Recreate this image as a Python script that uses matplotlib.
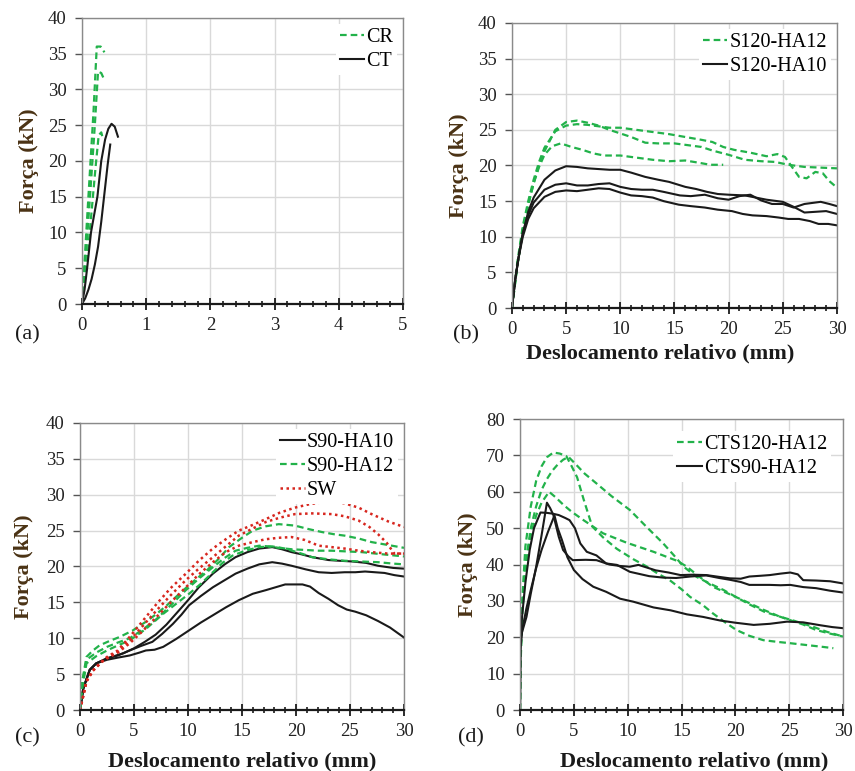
import matplotlib
matplotlib.use('Agg')
import matplotlib.pyplot as plt
from matplotlib.ticker import MultipleLocator

plt.rcParams['font.family'] = ['Liberation Serif', 'DejaVu Serif']

GREEN = '#22b24a'
RED = '#d7261e'
BLACK = '#1a1a1a'
LABEL_COLOR = '#4a3214'

# ---- panel (a): CR / CT ----
a_cr_x = [[0, 0.06, 0.12, 0.18, 0.23, 0.29, 0.35],
          [0, 0.07, 0.14, 0.20, 0.25, 0.30, 0.35],
          [0, 0.08, 0.15, 0.21, 0.26, 0.30, 0.33]]
a_cr_y = [[0, 9, 18, 27, 36, 36, 35.2],
          [0, 8, 17, 25, 32.5, 32.3, 31.3],
          [0, 6, 13, 19, 23.6, 24, 23]]
a_ct_x = [[0, 0.04, 0.08, 0.14, 0.19, 0.24, 0.30, 0.36, 0.41, 0.46, 0.51, 0.56],
          [0, 0.05, 0.10, 0.15, 0.20, 0.25, 0.30, 0.35, 0.40, 0.44]]
a_ct_y = [[0, 2, 5, 10, 12.5, 15, 20, 23, 24.5, 25.2, 24.8, 23.4],
          [0, 0.8, 2, 3.5, 5.5, 8, 11.5, 15.5, 19.5, 22.3]]

# ---- panel (b): S120-HA12 / S120-HA10 ----
b_g_x = [[0, 0.5, 1, 1.5, 2, 2.5, 3, 4, 5, 6, 7, 8, 9, 10, 11, 12.3, 13.5, 15, 16.5, 17.5,
          18.5, 20, 21.5, 23, 24.3, 25.5, 27, 28.5, 30],
         [0, 0.5, 1, 1.5, 2, 2.5, 3, 4, 5, 6, 7, 8, 9, 10, 11.5, 13, 14.5, 16, 17.5, 18.5,
          19.5, 20.5, 22, 23.5, 24.5, 25.2, 25.8, 26.5, 27.2, 28, 28.7, 29.3, 30],
         [0, 0.5, 1, 1.5, 2, 2.5, 3, 3.7, 4.5, 5.5, 6.5, 7.5, 8.5, 10, 11.5, 13, 14.5, 16,
          17.2, 18.3, 19.5]]
b_g_y = [[0, 6, 11, 14.5, 17.5, 20, 22, 25, 26.1, 26.3, 26, 25.6, 25, 24.5, 24, 23.2, 23.1,
          23.1, 22.8, 22.6, 22.1, 21.5, 20.8, 20.6, 20.5, 20.1, 19.8, 19.7, 19.6],
         [0, 6.5, 11.5, 15, 18, 20.5, 22.5, 24.8, 25.6, 25.8, 25.7, 25.5, 25.3, 25.3, 25.0,
          24.7, 24.4, 24.0, 23.6, 23.3, 22.6, 22.2, 21.8, 21.3, 21.6, 21.2, 19.9, 18.4, 18.2,
          19.1, 18.9, 17.8, 16.9],
         [0, 6, 11, 14.5, 17.5, 19.8, 21.5, 22.7, 23.1, 22.6, 22.2, 21.7, 21.4, 21.4, 21.1,
          20.8, 20.6, 20.7, 20.4, 20.1, 20.1]]
b_k_x = [[0, 0.3, 0.6, 1, 1.5, 2, 3, 4, 5, 6, 7, 8, 9, 10, 11, 12.3, 13.5, 14.5, 16, 17, 18,
          19, 20, 21.5, 22.5, 23.5, 25, 26, 27, 28, 29, 30],
         [0, 0.3, 0.6, 1, 1.5, 2, 3, 4, 5, 6, 7, 8, 9, 10, 11, 12, 13, 14, 15.5, 16.5, 17.8,
          19, 20, 21, 22, 23, 24, 25, 26, 27, 28.5, 29.3, 30],
         [0, 0.3, 0.6, 1, 1.5, 2, 3, 4, 5, 6, 7, 8, 9, 10, 11, 12, 13, 14, 15.4, 16.5, 17.8,
          19, 20.3, 21.3, 22.2, 23.5, 24.6, 25.5, 26.5, 27.5, 28.3, 29.2, 30]]
b_k_y = [[0, 4, 7, 10.5, 13.5, 15.5, 18, 19.3, 19.9, 19.8, 19.6, 19.5, 19.4, 19.4, 19, 18.4,
          18, 17.7, 17, 16.7, 16.3, 16, 15.9, 15.8, 15.5, 15.2, 14.9, 14.2, 13.4, 13.5, 13.6,
          13.2],
         [0, 4, 7, 10.5, 13, 14.8, 16.6, 17.3, 17.5, 17.2, 17.2, 17.4, 17.5, 17.0, 16.7, 16.6,
          16.6, 16.3, 15.8, 15.7, 15.9, 15.4, 15.2, 15.7, 15.9, 15.1, 14.6, 14.6, 14.1, 14.6,
          14.9, 14.6, 14.3],
         [0, 4, 7, 10, 12.5, 14, 15.6, 16.3, 16.5, 16.4, 16.6, 16.8, 16.7, 16.2, 15.8, 15.7,
          15.5, 15, 14.5, 14.3, 14.1, 13.8, 13.6, 13.2, 13, 12.9, 12.7, 12.5, 12.5, 12.2, 11.8,
          11.8, 11.6]]

# ---- panel (c): S90-HA10 / S90-HA12 / SW ----
c_k_x = [[0, 0.3, 0.9, 1.5, 2.5, 4, 5, 6, 7, 8, 9, 10, 11, 12.3, 13.4, 14.4, 15.5, 16.6,
          17.8, 18.7, 19.6, 20.5, 21.5, 23, 24, 25.2, 26.5, 27.6, 29, 30],
         [0, 0.3, 0.9, 1.5, 2.5, 3.5, 4.6, 5.6, 6.7, 7.6, 8.6, 9.4, 10.1, 11.2, 12.3, 13.4,
          14.4, 15.5, 16.6, 17.8, 18.7, 19.6, 20.9, 22.1, 23.3, 24.5, 25.5, 26.4, 27.3, 28.2,
          29.1, 30],
         [0, 0.3, 0.9, 1.5, 2.5, 3.5, 4.6, 5.5, 6.1, 6.9, 7.7, 8.9, 10.1, 11.2, 12.3, 13.5,
          14.7, 16, 17.2, 18.1, 19, 20.6, 21.3, 22.1, 23, 23.9, 24.7, 25.5, 26.5, 27.6, 28.7, 30]]
c_k_y = [[0, 3, 5.6, 6.5, 7.2, 7.9, 8.6, 9.5, 10.5, 11.9, 13.6, 15.3, 17.1, 19, 20.3, 21.3, 22,
          22.5, 22.7, 22.4, 22, 21.7, 21.3, 20.9, 20.8, 20.7, 20.5, 20.1, 19.8, 19.7],
         [0, 3, 5.6, 6.5, 7.2, 7.6, 8.3, 8.9, 9.5, 10.6, 12, 13.3, 14.6, 15.9, 17.1, 18.1, 19,
          19.7, 20.3, 20.6, 20.4, 20.1, 19.6, 19.2, 19.1, 19.2, 19.2, 19.3, 19.2, 19.1, 18.8,
          18.6],
         [0, 3, 5.6, 6.5, 7.0, 7.3, 7.6, 8.0, 8.3, 8.4, 8.8, 9.9, 11.1, 12.2, 13.2, 14.3, 15.3,
          16.2, 16.7, 17.1, 17.5, 17.5, 17.2, 16.3, 15.5, 14.6, 14.0, 13.7, 13.2, 12.4, 11.5,
          10.1]]
c_g_x = [[0, 0.2, 0.6, 1.2, 1.8, 2.7, 3.7, 4.9, 6, 7.1, 8.2, 9.2, 10.4, 11.7, 12.8, 13.8, 15,
          16, 17.2, 18.4, 19.9, 21.2, 22.4, 23.5, 24.5, 25.8, 27, 28.5, 30],
         [0, 0.2, 0.6, 1.5, 2.5, 3.5, 4.6, 5.8, 7.1, 8.4, 9.8, 11, 12.3, 13.4, 14.4, 15.5, 16.6,
          17.5, 18.4, 19.6, 20.9, 22.1, 23.3, 24.7, 26.1, 28, 30],
         [0, 0.2, 0.6, 1.5, 2.5, 3.5, 4.6, 6.1, 7.7, 8.9, 10.1, 11.2, 12.3, 13.2, 14.1, 15.3,
          16.6, 17.8, 19, 20.3, 21.5, 23, 24.5, 26, 27.6, 29, 30]]
c_g_y = [[0, 4, 7.4, 8.3, 9, 9.6, 10.2, 11.1, 12.2, 13.4, 14.8, 16.2, 17.8, 19.4, 21, 22.7, 24,
          25, 25.6, 25.9, 25.7, 25.2, 24.8, 24.5, 24.3, 23.9, 23.4, 23, 22.6],
         [0, 3.5, 7, 8, 8.8, 9.4, 10, 11.2, 12.7, 14.6, 16.7, 18.3, 19.9, 21.2, 22.2, 22.6, 22.9,
          22.8, 22.6, 22.4, 22.3, 22.2, 22.2, 22.1, 22, 21.7, 21.4],
         [0, 3, 6.5, 7.5, 8.3, 9, 9.7, 11.3, 13.4, 14.8, 16.2, 17.6, 19.2, 20.5, 21.5, 22.2,
          22.7, 22.8, 22.5, 21.9, 21.3, 21, 20.8, 20.7, 20.6, 20.4, 20.3]]
c_r_x = [[0, 0.3, 0.6, 1.2, 2, 2.5, 3.5, 4.6, 5.8, 7.1, 8.4, 9.8, 11, 12.3, 13.5, 14.7, 16,
          17.2, 18.5, 19.9, 21.3, 22.7, 23.7, 24.5, 25.8, 27, 28.5, 30],
         [0, 0.3, 0.6, 1.2, 2, 2.5, 3.5, 4.6, 5.8, 7.1, 8.4, 9.8, 11, 12.3, 13.5, 14.7, 16,
          17.2, 18.5, 19.9, 21.5, 23.3, 24.5, 25.8, 26.8, 27.6, 28.4, 29.1, 30],
         [0, 0.3, 0.6, 1.2, 2, 2.5, 3.5, 4.6, 5.8, 7.1, 8.4, 9.8, 11, 12.3, 13.5, 14.7, 16,
          17.2, 18.4, 19.6, 20.8, 22.1, 23.3, 24.5, 25.8, 27, 28.5, 30]]
c_r_y = [[0, 2, 4, 5.5, 6.7, 7.4, 8.3, 10.2, 12.4, 14.8, 17, 19, 20.8, 22.5, 23.8, 25, 25.8,
          26.6, 27.5, 28.2, 28.7, 29, 29, 28.8, 28.2, 27.3, 26.3, 25.5],
         [0, 2, 4, 5.5, 6.7, 7.3, 8.1, 9.7, 11.7, 13.9, 16, 18.1, 19.7, 21.3, 22.8, 24.3, 25.3,
          26.2, 26.8, 27.3, 27.4, 27.3, 27, 26.4, 25.5, 24.5, 23.3, 21.8, 21.8],
         [0, 2, 4, 5.5, 6.7, 7.2, 8, 9.3, 11, 13, 15, 17.1, 18.9, 20.6, 22, 22.9, 23.4, 23.8, 24,
          24.1, 23.7, 22.9, 22.7, 22.5, 22.2, 22, 21.8, 21.8]]

# ---- panel (d): CTS120-HA12 / CTS90-HA12 ----
d_g_x = [[0, 0.05, 0.2, 0.5, 1, 1.5, 2, 2.5, 3.1, 3.7, 4.3, 4.8, 5.3, 5.9, 6.7, 7.7, 9, 10.5,
          11.8, 12.8, 13.9, 15, 15.8, 17, 17.9, 19, 20.1, 21.3, 22.6, 24, 25, 26.5, 28, 29.1],
         [0, 0.05, 0.2, 0.5, 1, 1.5, 2, 2.5, 3, 3.5, 4, 4.5, 5.2, 6, 7.1, 8.5, 10.2, 11.7, 13.3,
          14.3, 15.2, 16.4, 17.6, 18.9, 20.1, 21.4, 22.7, 24, 25.1, 26.3, 27.5, 28.8, 30],
         [0, 0.05, 0.2, 0.5, 1, 1.5, 2, 2.7, 3.3, 4, 4.8, 5.9, 7.7, 9.9, 12.4, 14.6, 15.5, 16.5,
          17.9, 19.5, 21, 22.5, 24.1, 25.5, 27.2, 28.5, 30]]
d_g_y = [[0, 15, 30, 45, 56, 63, 67, 69.5, 70.8, 70.5, 69.8, 67, 64, 58, 50.5, 47.5, 44.3,
          41.5, 39.4, 37.5, 35.7, 33.2, 31.1, 28.8, 26.6, 24.2, 22, 20.4, 19.2, 18.7, 18.4,
          17.9, 17.4, 17],
         [0, 14, 28, 40, 50, 56, 60.5, 63.5, 65.8, 67.5, 68.8, 69.6, 67.5, 65, 62.3, 58.8, 55,
          50.5, 45.8, 42.5, 39.4, 36.6, 34.8, 33, 31, 28.9, 27, 25.8, 24.7, 23.5, 22, 21, 20.2],
         [0, 12, 26, 38, 48, 53.5, 57, 60, 58.5, 56.5, 54.5, 52.2, 48.6, 46, 43.5, 41, 39.4, 37,
          33.9, 31.8, 29.8, 27.7, 25.7, 24.5, 22.9, 21.5, 20.2]]
d_k_x = [[0, 0.03, 0.15, 0.6, 1, 1.5, 2, 2.5, 2.8, 3.1, 3.6, 4, 4.5, 4.9, 6.1, 7.1, 8.3, 9.3,
          10.2, 11, 12.6, 13.8, 14.9, 16, 17.3, 18.5, 19.5, 20.5, 21.3, 22.3, 23.2, 24.2, 25.1,
          25.8, 26.3, 27.5, 28.8, 30],
         [0, 0.03, 0.2, 0.5, 0.9, 1.3, 1.9, 2.5, 3, 3.6, 4.2, 4.6, 5.1, 5.6, 6.2, 7.1, 8, 9,
          10.2, 10.8, 12, 13.3, 14.5, 15.8, 17.3, 18.5, 19.5, 20.5, 21.3, 22.3, 23.2, 24.2, 25.1,
          26.3, 27.5, 28.8, 30],
         [0, 0.03, 0.2, 0.6, 1, 1.5, 2, 2.6, 3.2, 3.5, 3.9, 4.4, 5, 5.8, 6.8, 8, 9.3, 10.5,
          12.4, 14, 15.5, 17, 18.6, 20, 21.7, 23.2, 24.8, 26.3, 27.9, 29, 30]]
d_k_y = [[0, 18, 21, 25.6, 32, 39.4, 48, 57, 55.5, 53.6, 47.6, 44, 42.2, 41.2, 41.3, 41.2, 40,
          39.6, 39.4, 39.9, 38.4, 37.8, 37.1, 37.2, 37.1, 36.6, 36.2, 36.1, 36.7, 36.9, 37.1,
          37.5, 37.8, 37.3, 35.7, 35.6, 35.4, 34.8],
         [0, 20, 26, 35, 44, 50, 54.3, 54.2, 54, 53.6, 52.8, 52.2, 50, 45.8, 43.5, 42.5, 40.3,
          39.9, 38, 37.6, 36.8, 36.4, 36.3, 36.7, 37, 36.3, 35.8, 35.2, 34.4, 34.4, 34.4, 34.3,
          34.4, 33.8, 33.5, 32.8, 32.3],
         [0, 16, 22, 28, 33, 39, 44, 49, 53.5, 50, 46.7, 42, 38.5, 36, 33.9, 32.5, 30.6, 29.8,
          28.2, 27.4, 26.3, 25.6, 24.6, 24, 23.4, 23.7, 24.3, 24.1, 23.3, 22.8, 22.5]]

green_ls = (0, (3, 1.8))
red_ls = (0, (1, 1.4))

fig = plt.figure(figsize=(8.55, 7.71), dpi=100)


def style_axes(ax, xmax, xmaj, xmin, ymax, ymaj):
    ax.set_xlim(0, xmax)
    ax.set_ylim(0, ymax)
    ax.xaxis.set_major_locator(MultipleLocator(xmaj))
    ax.xaxis.set_minor_locator(MultipleLocator(xmin))
    ax.yaxis.set_major_locator(MultipleLocator(ymaj))
    ax.grid(True, which='major', color='#d9d9d9', lw=1.0)
    ax.set_axisbelow(True)
    for s in ['top', 'right', 'left']:
        ax.spines[s].set_color('#8a8a8a')
        ax.spines[s].set_linewidth(1.0)
    ax.spines['bottom'].set_color(BLACK)
    ax.spines['bottom'].set_linewidth(1.6)
    ax.tick_params(axis='x', which='major', direction='inout', length=8, width=1.3,
                   color=BLACK, labelsize=13.5, pad=5, labelcolor='#222222')
    ax.tick_params(axis='x', which='minor', direction='inout', length=5, width=1.2, color=BLACK)
    ax.tick_params(axis='y', which='major', direction='out', length=5, width=1.0,
                   color='#555555', labelsize=13.5, pad=6, labelcolor='#222222')


def add_legend(ax, **kw):
    leg = ax.legend(loc='upper right', fontsize=14.5, frameon=True, fancybox=False,
                    framealpha=1, edgecolor='none', handlelength=1.2, handletextpad=0.1,
                    labelspacing=0.25, borderpad=0.2, **kw)
    return leg


def ylab(ax, xpos):
    ax.set_ylabel('Força (kN)', fontsize=16, fontweight='bold', color=LABEL_COLOR)
    ax.yaxis.set_label_coords(xpos, 0.5)


def xlab(ax, xpos, ypos):
    ax.set_xlabel('Deslocamento relativo (mm)', fontsize=16, fontweight='bold', color=BLACK)
    ax.xaxis.set_label_coords(xpos, ypos)


# (a)
ax = fig.add_axes([0.0959, 0.6057, 0.3754, 0.3710])
style_axes(ax, 5, 1, 0.2, 40, 5)
for i in range(len(a_cr_x)):
    ax.plot(a_cr_x[i], a_cr_y[i], color=GREEN, lw=1.6, ls=green_ls, label='CR' if i == 0 else None)
for i in range(len(a_ct_x)):
    ax.plot(a_ct_x[i], a_ct_y[i], color=BLACK, lw=1.5, label='CT' if i == 0 else None)
add_legend(ax, borderaxespad=0.3)
ylab(ax, -0.134)

# (b)
ax = fig.add_axes([0.5988, 0.6005, 0.3801, 0.3697])
style_axes(ax, 30, 5, 1, 40, 5)
for i in range(len(b_g_x)):
    ax.plot(b_g_x[i], b_g_y[i], color=GREEN, lw=1.6, ls=green_ls,
            label='S120-HA12' if i == 0 else None)
for i in range(len(b_k_x)):
    ax.plot(b_k_x[i], b_k_y[i], color=BLACK, lw=1.5, label='S120-HA10' if i == 0 else None)
add_legend(ax, borderaxespad=0.3)
ylab(ax, -0.132)
xlab(ax, 0.455, -0.125)

# (c)
ax = fig.add_axes([0.0936, 0.0791, 0.3789, 0.3723])
style_axes(ax, 30, 5, 1, 40, 5)
for i in range(len(c_k_x)):
    ax.plot(c_k_x[i], c_k_y[i], color=BLACK, lw=1.5, label='S90-HA10' if i == 0 else None)
for i in range(len(c_g_x)):
    ax.plot(c_g_x[i], c_g_y[i], color=GREEN, lw=1.6, ls=green_ls,
            label='S90-HA12' if i == 0 else None)
for i in range(len(c_r_x)):
    ax.plot(c_r_x[i], c_r_y[i], color=RED, lw=1.8, ls=red_ls, label='SW' if i == 0 else None)
add_legend(ax, borderaxespad=0.3)
ylab(ax, -0.142)
xlab(ax, 0.5, -0.143)

# (d)
ax = fig.add_axes([0.6082, 0.0791, 0.3778, 0.3774])
style_axes(ax, 30, 5, 1, 80, 10)
for i in range(len(d_g_x)):
    ax.plot(d_g_x[i], d_g_y[i], color=GREEN, lw=1.6, ls=green_ls,
            label='CTS120-HA12' if i == 0 else None)
for i in range(len(d_k_x)):
    ax.plot(d_k_x[i], d_k_y[i], color=BLACK, lw=1.5, label='CTS90-HA12' if i == 0 else None)
add_legend(ax, borderaxespad=0.6)
ylab(ax, -0.130)
xlab(ax, 0.54, -0.141)

for lbl, fx, fy in [('(a)', 0.0316, 0.5655), ('(b)', 0.545, 0.5655),
                    ('(c)', 0.0316, 0.0428), ('(d)', 0.551, 0.0428)]:
    fig.text(fx, fy, lbl, fontsize=16, ha='center', va='center', color=BLACK)

fig.savefig('out.png', dpi=100)
